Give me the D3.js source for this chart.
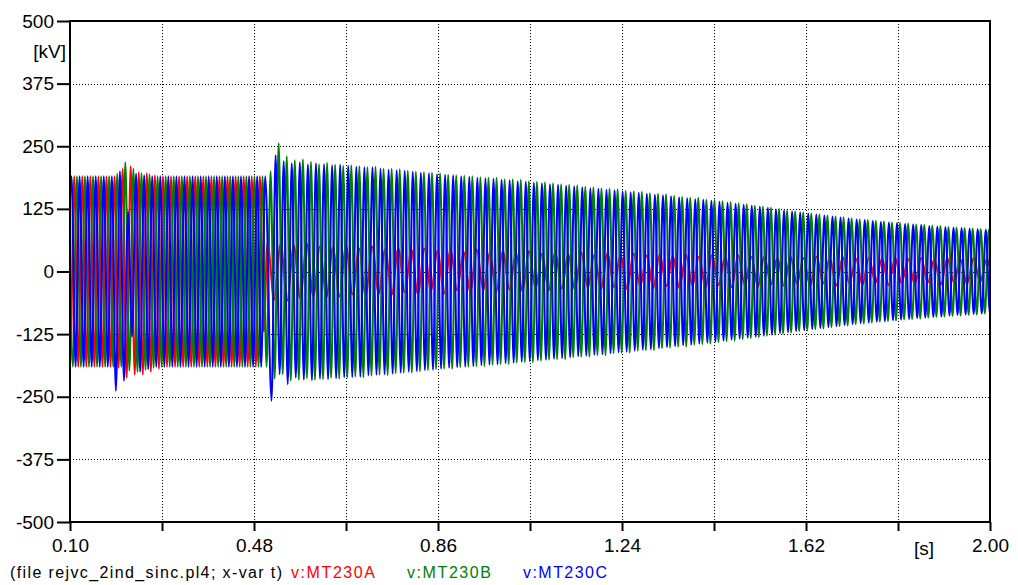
<!DOCTYPE html>
<html>
<head>
<meta charset="utf-8">
<script src="https://cdn.jsdelivr.net/npm/d3@7"></script>
<style>
  body { margin: 0; background: #fff; }
  text { font-family: "Liberation Sans", Arial, sans-serif; }
</style>
</head>
<body>
<svg id="chart" width="1018" height="585"></svg>
<script>
// ---- axis ticks ----
const yTicks = [-500, -375, -250, -125, 0, 125, 250, 375, 500];
const xTicks = [0.10, 0.29, 0.48, 0.67, 0.86, 1.05, 1.24, 1.43, 1.62, 1.81, 2.00];
const xLabelTicks = [0.10, 0.48, 0.86, 1.24, 1.62, 2.00];

// ---- waveform extremes [kV], one value per half cycle (60 Hz) ----
const halfPeriod = 1 / 120;
const startA = 0.0920, startB = 0.0976, startC = 0.0948;

// phase A until the rejection
const peaksA = [
  190,-190,190,-190,190,-190,190,-190,190,-190,
  190,-190,190,-192,205,-212,210,-206,198,-206,
  196,-200,192,-194,190,-190,190,-190,190,-190,
  190,-190,190,-190,190,-190,190,-190,190,-190,
  190,-190,190,-190,190,-190,190,-190,190,-120
];
// phase A after the rejection (residual oscillation)
const startApost = 0.508, stepApost = 0.0135;
const peaksApost = [
  58,-56,55,-58,52,-54,56,-50,50,-52,
  48,-50,52,-46,46,-48,50,-44,45,-46,
  47,-42,44,-45,46,-40,42,-44,45,-38,
  40,-42,44,-38,38,-40,42,-36,38,-40,
  41,-35,36,-38,40,-34,35,-37,38,-32,
  34,-36,37,-31,33,-35,36,-30,32,-33,
  35,-29,31,-33,34,-28,30,-32,33,-27,
  30,-31,32,-27,29,-30,31,-26,28,-29,
  30,-25,27,-29,30,-24,27,-28,29,-24,
  26,-27,28,-23,26,-27,28,-23,25,-26,
  27,-22,25,-26,27,-22,24,-25,26,-21,
  24,-25
];
const peaksB = [
  190,-190,190,-190,190,-190,190,-190,190,-190,
  190,-190,195,-190,218,-198,205,-200,196,-196,
  194,-192,190,-190,190,-190,190,-190,190,-190,
  190,-190,190,-190,190,-190,190,-190,190,-190,
  190,-190,190,-190,190,-190,190,-190,190,-190,
  200,-214,256,-205,230,-218,222,-216,224,-213,
  219,-216,214,-215,217,-212,213,-214,211,-212,
  212,-210,210,-211,208,-208,209,-206,205,-207,
  205,-203,204,-202,201,-202,199,-199,198,-197,
  197,-195,196,-194,193,-194,192,-191,191,-190,
  190,-189,188,-189,187,-186,187,-185,184,-185,
  184,-182,183,-181,180,-181,179,-178,178,-176,
  176,-175,174,-175,173,-171,172,-170,169,-170,
  168,-167,166,-167,165,-163,164,-162,161,-162,
  160,-158,159,-157,156,-157,155,-153,154,-152,
  151,-150,149,-150,147,-146,147,-145,143,-144,
  142,-141,140,-139,138,-138,136,-135,134,-133,
  131,-131,129,-128,127,-126,125,-124,122,-122,
  120,-119,118,-118,116,-115,114,-114,112,-111,
  110,-109,108,-108,106,-105,104,-104,103,-102,
  101,-100,100,-99,98,-98,97,-96,96,-95,
  94,-94,93,-92,92,-91,91,-90,89,-89,
  88,-88,87,-87,86,-86,85,-84,84,-83
];
// phase C until the rejection
const peaksC = [
  -190,190,-190,190,-190,190,-190,190,-190,190,
  -190,190,-238,200,-218,120,-130,195,-200,192,
  -195,190,-190,190,-190,190,-190,190,-190,190,
  -190,190,-190,190,-190,190,-190,190,-190,190,
  -190,190,-190,190,-190,190,-190,190,-190,190
];
// phase C after the rejection (swings against phase B)
const startCpost = 0.5163;
const peaksCpost = [
  -258,232,-205,220,-225,216,-212,218,-216,214,
  -217,216,-214,214,-215,212,-213,213,-211,211,
  -211,209,-210,208,-207,208,-206,205,-205,203,
  -204,202,-202,201,-200,199,-199,197,-197,196,
  -196,194,-194,193,-192,192,-191,190,-190,189,
  -189,187,-187,186,-186,185,-185,183,-183,182,
  -182,180,-180,179,-179,177,-177,176,-176,174,
  -174,173,-173,171,-171,170,-169,168,-168,166,
  -166,165,-165,163,-163,162,-161,160,-160,158,
  -158,157,-156,155,-155,153,-153,152,-151,150,
  -149,148,-147,146,-146,144,-144,143,-142,141,
  -140,139,-138,137,-136,135,-134,133,-132,131,
  -130,129,-128,127,-126,124,-123,122,-121,120,
  -119,118,-117,116,-115,114,-113,112,-111,110,
  -109,108,-107,106,-105,104,-103,103,-102,101,
  -100,99,-99,98,-97,97,-96,95,-95,94,
  -93,93,-92,91,-91,90,-90,89,-88,88,
  -87,87,-86,86,-85,85,-84,84,-83,83
];

const seriesColors = { A: "#ff0000", B: "#008000", C: "#0000ff" };
const legendItems = [
  { label: "v:MT230A", color: "#ff0000" },
  { label: "v:MT230B", color: "#008000" },
  { label: "v:MT230C", color: "#0000ff" }
];

// ---- layout ----
const svg = d3.select("#chart");
const plotLeft = 70, plotRight = 990, plotTop = 21, plotBottom = 522;

const x = d3.scaleLinear().domain([0.10, 2.00]).range([plotLeft, plotRight]);
const y = d3.scaleLinear().domain([-500, 500]).range([plotBottom, plotTop]);

const toPoints = (t0, step, vals) => vals.map((v, i) => ({ t: t0 + i * step, v }));
const traceA = toPoints(startA, halfPeriod, peaksA).concat(toPoints(startApost, stepApost, peaksApost));
const traceB = toPoints(startB, halfPeriod, peaksB);
const traceC = toPoints(startC, halfPeriod, peaksC).concat(toPoints(startCpost, halfPeriod, peaksCpost));

// ---- grid ----
const grid = svg.append("g")
  .attr("stroke", "#000").attr("stroke-width", 1)
  .attr("stroke-dasharray", "1,2").attr("shape-rendering", "crispEdges");
grid.selectAll("line.h").data(yTicks.filter(d => d > -500 && d < 500)).join("line")
  .attr("class", "h")
  .attr("x1", plotLeft).attr("x2", plotRight)
  .attr("y1", d => Math.round(y(d)) + 0.5).attr("y2", d => Math.round(y(d)) + 0.5);
grid.selectAll("line.v").data(xTicks.slice(1, -1)).join("line")
  .attr("class", "v")
  .attr("y1", plotTop).attr("y2", plotBottom)
  .attr("x1", d => Math.round(x(d)) + 0.5).attr("x2", d => Math.round(x(d)) + 0.5);

// ---- waveforms ----
svg.append("clipPath").attr("id", "plotClip")
  .append("rect").attr("x", plotLeft).attr("y", plotTop - 1)
  .attr("width", plotRight - plotLeft).attr("height", plotBottom - plotTop + 2);

const line = d3.line().x(d => x(d.t)).y(d => y(d.v)).curve(d3.curveMonotoneX);
const plot = svg.append("g").attr("clip-path", "url(#plotClip)");
[[traceA, seriesColors.A], [traceB, seriesColors.B], [traceC, seriesColors.C]].forEach(([pts, c]) => {
  plot.append("path").datum(pts)
    .attr("d", line)
    .attr("fill", "none")
    .attr("stroke", c)
    .attr("stroke-width", 2)
    .attr("stroke-linejoin", "round");
});

// ---- axes ----
const yAxis = d3.axisLeft(y).tickValues(yTicks).tickSize(13).tickPadding(3).tickFormat(d => String(d));
const gy = svg.append("g").attr("transform", `translate(${plotLeft},0)`).call(yAxis);
gy.select(".domain").remove();
gy.selectAll(".tick line").attr("stroke", "#000").attr("stroke-width", 2);
gy.selectAll(".tick text").attr("font-size", 19).attr("fill", "#000")
  .attr("font-family", "'Liberation Sans', Arial, sans-serif");

const xAxis = d3.axisBottom(x).tickValues(xTicks).tickSize(9).tickPadding(8)
  .tickFormat(d => xLabelTicks.some(v => Math.abs(v - d) < 1e-9) ? d3.format(".2f")(d) : "");
const gx = svg.append("g").attr("transform", `translate(0,${plotBottom})`).call(xAxis);
gx.select(".domain").remove();
gx.selectAll(".tick line").attr("stroke", "#000").attr("stroke-width", 2);
gx.selectAll(".tick text").attr("font-size", 19).attr("fill", "#000")
  .attr("font-family", "'Liberation Sans', Arial, sans-serif");

// frame
const frame = svg.append("g").attr("stroke", "#000").attr("stroke-width", 2).attr("fill", "none");
frame.append("line").attr("x1", plotLeft).attr("x2", plotLeft).attr("y1", plotTop - 1).attr("y2", plotBottom + 1);
frame.append("line").attr("x1", plotRight).attr("x2", plotRight).attr("y1", plotTop - 1).attr("y2", plotBottom + 1);
frame.append("line").attr("x1", plotLeft).attr("x2", plotRight).attr("y1", plotTop).attr("y2", plotTop);
frame.append("line").attr("x1", plotLeft).attr("x2", plotRight).attr("y1", plotBottom).attr("y2", plotBottom);

// units
svg.append("text").attr("x", 66).attr("y", 58).attr("text-anchor", "end")
  .attr("font-size", 19).text("[kV]");
svg.append("text").attr("x", 924).attr("y", 555).attr("text-anchor", "middle")
  .attr("font-size", 19).text("[s]");

// ---- legend line ----
svg.append("text").attr("x", 10).attr("y", 578).attr("font-size", 16)
  .attr("textLength", 272).attr("lengthAdjust", "spacing")
  .text("(file rejvc_2ind_sinc.pl4; x-var t)");
svg.selectAll("text.legend").data(legendItems).join("text")
  .attr("class", "legend")
  .attr("x", (d, i) => 291 + i * 116).attr("y", 578)
  .attr("font-size", 16).attr("fill", d => d.color)
  .attr("textLength", 84).attr("lengthAdjust", "spacing")
  .text(d => d.label);
</script>
</body>
</html>
